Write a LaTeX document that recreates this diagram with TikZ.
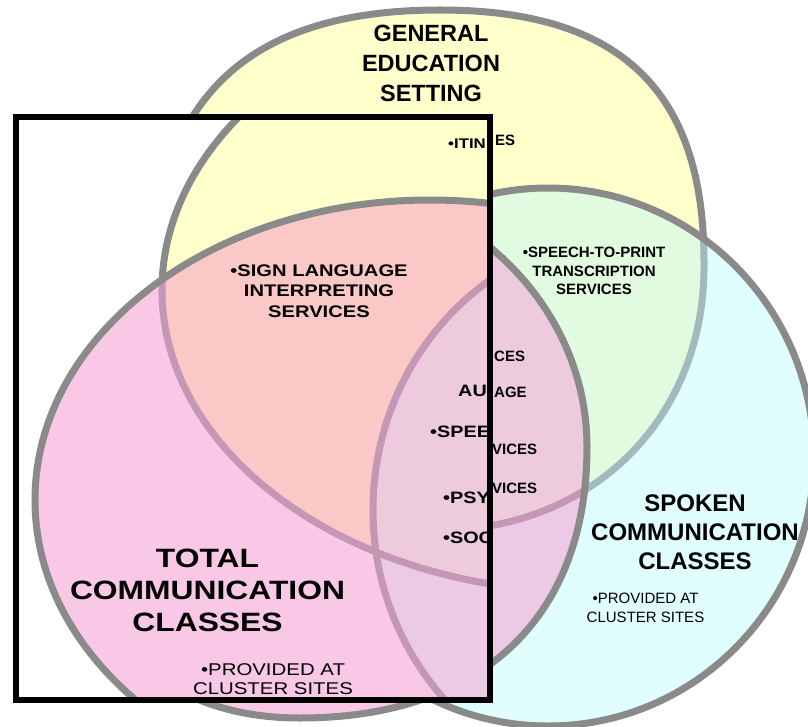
\documentclass[tikz,border=0pt]{standalone}
\usepackage{fontspec}
\setmainfont{Liberation Sans}
\newfontfamily\widefont[FakeStretch=1.2]{Liberation Sans}

\definecolor{cY}{HTML}{FFFFCC}
\definecolor{cG}{HTML}{E1FBE1}
\definecolor{cC}{HTML}{E0FEFE}
\definecolor{cP}{HTML}{F9C8E6}
\definecolor{cPY}{HTML}{FAC8C6}
\definecolor{cPC}{HTML}{ECC9E4}
\definecolor{cPYC}{HTML}{EDCADC}
\definecolor{lgray}{HTML}{8A8A8A}
\definecolor{lteal}{HTML}{A2BABE}
\definecolor{lpurp}{HTML}{C497B5}

\tikzset{
  olg/.style={draw=lgray, line width=7pt},
  olt/.style={draw=lteal, line width=7pt},
  olp/.style={draw=lpurp, line width=7pt},
  lbl/.style={inner sep=0pt, text=black, align=center},
  frag/.style={inner sep=0pt, text=black, anchor=west},
}

% outlines of the three sets, outside the framed box
\newcommand\pathYB{(440,10) .. controls (620,10) and (704,90) .. (704,262) .. controls (706,420) and (590,530) .. (440,530) .. controls (300,530) and (150,420) .. (150,300) .. controls (150,105) and (240,10) .. (440,10) -- cycle}
\newcommand\pathCB{(548,457) ellipse [x radius=266, y radius=269]}
\newcommand\pathPB{(587,447) .. controls (587,618) and (481,718) .. (300,718) .. controls (149,718) and (60,618) .. (60,447) .. controls (60,300) and (170,180) .. (300,180) .. controls (458,180) and (587,300) .. (587,447) -- cycle}
% outlines of the three sets, inside the framed box
\newcommand\pathYA{(588,290) ellipse [x radius=426, y radius=302]}
\newcommand\pathCA{(640,510) ellipse [x radius=267, y radius=278]}
\newcommand\pathPA{(430,500) ellipse [x radius=395, y radius=300]}

\newcommand\drawvenn[3]{%
  \fill[cY] #1;
  \draw[olg] #1;
  \fill[cC] #2;
  \begin{scope}\clip #1; \fill[cG] #2; \end{scope}
  \begin{scope}\clip #2; \draw[olt] #1; \end{scope}
  \draw[olg] #2;
  \fill[cP] #3;
  \begin{scope}\clip #3;
    \fill[cPY] #1;
    \fill[cPC] #2;
    \begin{scope}\clip #1; \fill[cPYC] #2; \end{scope}
    \draw[olp] #1;
    \draw[olp] #2;
  \end{scope}
  \draw[olg] #3;
}

\begin{document}
\begin{tikzpicture}[x=1pt,y=-1pt]
\useasboundingbox (0,0) rectangle (808,727);
\fill[white] (0,0) rectangle (808,727);

% ---------- outer picture ----------
\drawvenn{\pathYB}{\pathCB}{\pathPB}

\node[lbl, font=\bfseries\fontsize{23.5}{30}\selectfont] (gen) at (431,63) {GENERAL\\EDUCATION\\SETTING};
\node[lbl, font=\bfseries\fontsize{24}{29}\selectfont] (spoken) at (695,532) {SPOKEN\\COMMUNICATION\\CLASSES};
\node[lbl, font=\bfseries\fontsize{15}{18.5}\selectfont] (stp) at (594,271) {•SPEECH-TO-PRINT\\TRANSCRIPTION\\SERVICES};
\node[lbl, font=\fontsize{15}{19}\selectfont] (provB) at (645.5,607.5) {•PROVIDED AT\\CLUSTER SITES};

\node[frag, font=\bfseries\fontsize{15}{18}\selectfont] (fES) at (495,140) {ES};
\node[frag, font=\bfseries\fontsize{15}{18}\selectfont] (fCES) at (494,356) {CES};
\node[frag, font=\bfseries\fontsize{15}{18}\selectfont] (fAGE) at (494,392) {AGE};
\node[frag, font=\bfseries\fontsize{15}{18}\selectfont] (fVA) at (492,449) {VICES};
\node[frag, font=\bfseries\fontsize{15}{18}\selectfont] (fVB) at (492,488) {VICES};

% ---------- framed inset ----------
\begin{scope}
  \clip (15.5,117.5) rectangle (490,700);
  \fill[white] (15.5,117.5) rectangle (490,700);
  \drawvenn{\pathYA}{\pathCA}{\pathPA}

  \node[lbl, font=\widefont\bfseries\fontsize{16.8}{20.5}\selectfont] (sign) at (319,291) {•SIGN LANGUAGE\\INTERPRETING\\SERVICES};
  \node[lbl, font=\widefont\bfseries\fontsize{26.5}{32}\selectfont] (total) at (207.5,590) {TOTAL\\COMMUNICATION\\CLASSES};
  \node[lbl, font=\widefont\fontsize{17}{19.5}\selectfont] (provA) at (273,679) {•PROVIDED AT\\CLUSTER SITES};

  \node[frag, font=\widefont\bfseries\fontsize{14}{16}\selectfont] (fITIN) at (448,144) {•ITIN};
  \node[frag, font=\widefont\bfseries\fontsize{16.5}{19}\selectfont] (fAU) at (458,391) {AU};
  \node[frag, font=\widefont\bfseries\fontsize{16.5}{19}\selectfont] (fSPEE) at (430,432) {•SPEE};
  \node[frag, font=\widefont\bfseries\fontsize{16.5}{19}\selectfont] (fPSY) at (443,498) {•PSY};
  \node[frag, font=\widefont\bfseries\fontsize{16.5}{19}\selectfont] (fSOC) at (443,538) {•SOC};
\end{scope}

\draw[line width=6pt] (15.5,117.5) rectangle (490,700);
\end{tikzpicture}
\end{document}
